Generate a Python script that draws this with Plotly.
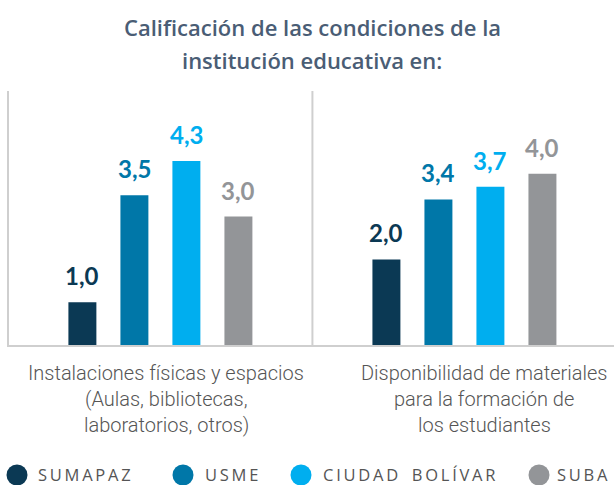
import plotly.graph_objects as go

# Categories (one label line per entry) and series
categories = ["Instalaciones físicas y espacios", "Disponibilidad de materiales"]
category_lines = [
    ["Instalaciones físicas y espacios", "(Aulas, bibliotecas,", "laboratorios, otros)"],
    ["Disponibilidad de materiales", "para la formación de", "los estudiantes"],
]
series = ["SUMAPAZ", "USME", "CIUDAD BOLÍVAR", "SUBA"]
sumapaz = [1.0, 2.0]
usme = [3.5, 3.4]
ciudad_bolivar = [4.3, 3.7]
suba = [3.0, 4.0]
values = [sumapaz, usme, ciudad_bolivar, suba]
colors = ["#0b3954", "#0077a8", "#00aeef", "#939598"]

title_lines = ["Calificación de las condiciones de la", "institución educativa en:"]

W, H = 614, 485
L, R, T, B = 9, 0, 91, 140
plot_w = W - L - R
plot_h = H - T - B


def px_x(px):
    """page pixel x -> paper coordinate"""
    return (px - L) / plot_w


def px_y(py):
    """page pixel y -> paper coordinate"""
    return (T + plot_h - py) / plot_h


bar_w = 0.092
centers = [-0.2566, -0.0855, 0.0855, 0.2566]
x_idx = list(range(len(categories)))

fig = go.Figure()
for name, vals, col, c in zip(series, values, colors, centers):
    fig.add_trace(go.Bar(
        x=x_idx, y=vals, name=name,
        marker=dict(color=col, line=dict(width=0)),
        width=bar_w, offset=c - bar_w / 2,
        showlegend=False, hoverinfo="skip",
    ))
    # value labels above each bar
    for i, v in zip(x_idx, vals):
        fig.add_annotation(
            x=i + c, y=v, xref="x", yref="y",
            text=f"{v:.1f}".replace(".", ","),
            showarrow=False, yanchor="bottom", yshift=10,
            font=dict(family="Lato", size=24, color=col, weight=700),
        )

# category labels under the axis
label_cx = [166, 484]
for cx, lines in zip(label_cx, category_lines):
    for k, line in enumerate(lines):
        fig.add_annotation(
            x=px_x(cx), y=px_y(373 + 26 * k), xref="paper", yref="paper",
            text=line, showarrow=False, xanchor="center", yanchor="middle",
            font=dict(family="Roboto", size=20, color="#555555", weight=300),
        )

# two-line heading
for k, line in enumerate(title_lines):
    fig.add_annotation(
        x=px_x(312), y=px_y(27 + 33 * k), xref="paper", yref="paper",
        text=line, showarrow=False, xanchor="center", yanchor="middle",
        font=dict(family="Open Sans", size=22, color="#4a5d75", weight=600),
    )

# divider between the two groups
fig.add_shape(type="line", xref="x", yref="paper", x0=0.5, x1=0.5, y0=0, y1=1,
              line=dict(color="#cfcfcf", width=2), layer="below")

# legend: coloured circles followed by letter-spaced names
legend_cx = [17, 183, 301, 539]
legend_tx = [37, 204, 322, 556]
r = 10.5
cy = 475
for name, col, cx, tx in zip(series, colors, legend_cx, legend_tx):
    fig.add_shape(
        type="circle", xref="paper", yref="paper",
        x0=px_x(cx - r), x1=px_x(cx + r),
        y0=px_y(cy + r), y1=px_y(cy - r),
        fillcolor=col, line=dict(width=0),
    )
    spaced = "\u2009".join(ch if ch != " " else "\u2002" for ch in name)
    fig.add_annotation(
        x=px_x(tx), y=px_y(474), xref="paper", yref="paper",
        xanchor="left", yanchor="middle", borderpad=0,
        text=spaced, showarrow=False,
        font=dict(family="Open Sans", size=16.5, color="#555555"),
    )

fig.update_layout(
    width=W, height=H,
    margin=dict(l=L, r=R, t=T, b=B, pad=0),
    paper_bgcolor="white", plot_bgcolor="white",
    barmode="overlay",
    xaxis=dict(
        range=[-0.498, 1.492], showticklabels=False, showgrid=False,
        zeroline=False, showline=True, linecolor="#cfcfcf", linewidth=2,
        ticks="", fixedrange=True,
    ),
    yaxis=dict(
        range=[0, plot_h / 42.8], showticklabels=False, showgrid=False,
        zeroline=False, showline=True, linecolor="#cfcfcf", linewidth=2,
        ticks="", fixedrange=True,
    ),
    showlegend=False,
)

fig.write_html("out.html", config={"displayModeBar": False})
